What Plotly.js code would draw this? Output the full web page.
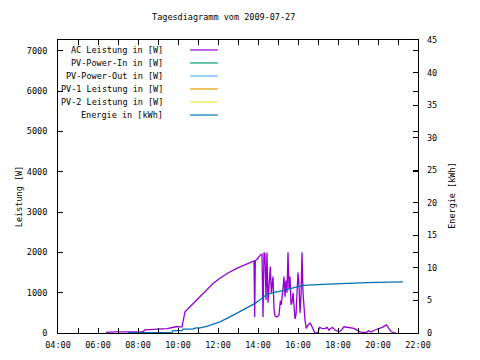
<!DOCTYPE html>
<html>
<head>
<meta charset="utf-8">
<script src="https://cdn.plot.ly/plotly-3.0.1.min.js"></script>
<style>html,body{margin:0;padding:0;background:#fff;}#chart{width:480px;height:360px;}</style>
</head>
<body>
<div id="chart"></div>
<script>
const day = '2009-07-27';
const chartTitle = 'Tagesdiagramm vom 2009-07-27';
const seriesNames = ['AC Leistung in [W]', 'PV-Power-In in [W]', 'PV-Power-Out in [W]', 'PV-1 Leistung in [W]', 'PV-2 Leistung in [W]', 'Energie in [kWh]'];
const leftAxisTitle = 'Leistung [W]';
const rightAxisTitle = 'Energie [kWh]';

// AC Leistung [W]
const acTimes = ['06:24','06:51','08:15','08:21','09:27','09:54','10:12','10:16','10:21','10:36','10:51','11:16','11:46','12:06','12:30','12:56','13:26','13:46',
  '13:48','13:50','13:52','13:57','14:03','14:09','14:12','14:15','14:18','14:21','14:24','14:27','14:30','14:33','14:37','14:40','14:45','14:48','14:51','14:57',
  '15:03','15:07','15:10','15:15','15:18','15:21','15:24','15:27','15:30','15:33','15:36','15:39','15:42','15:45','15:48','15:51','15:54','15:57',
  '16:00','16:03','16:06','16:09','16:12','16:15','16:18','16:21','16:25','16:30','16:37','16:45','16:51','17:00','17:04','17:12','17:21','17:27','17:33','17:43','17:51',
  '18:03','18:09','18:18','18:30','18:48','19:00','19:06','19:18','19:27','19:31','19:39','19:51','20:00','20:13','20:25','20:33','20:40','20:48','20:54'];
const acValues = [15,30,30,80,110,155,150,350,528,652,777,985,1233,1357,1490,1605,1712,1769,
  1790,400,1790,1830,1900,1950,1950,400,2000,1950,820,2000,750,1200,1650,1000,1400,600,420,400,
  450,800,700,1100,1400,900,1300,1000,2000,1100,1400,700,750,1000,700,350,450,900,
  1500,1200,500,900,2000,1000,500,320,115,200,240,120,0,0,140,115,110,140,75,140,75,
  30,60,155,140,115,60,30,10,20,55,25,75,100,140,200,115,30,10,0];

// Energie [kWh]
const enTimes = ['07:30','09:42','09:45','10:12','10:15','10:45','10:54','11:06','11:26','12:06','12:46','13:26','13:51','14:06','14:26','14:45','15:15','15:51','16:16','17:31','18:26','19:26','20:36','21:15'];
const enValues = [0.05,0.1,0.35,0.35,0.6,0.6,0.8,0.8,1.0,1.7,2.75,3.8,4.55,5.1,5.9,6.2,6.5,7.0,7.3,7.5,7.65,7.75,7.8,7.85];

// Series without visible data on this day
const pvInValues = [];
const pvOutValues = [];
const pv1Values = [];
const pv2Values = [];

const colors = ['#9400d3', '#009e73', '#56b4e9', '#e69f00', '#f0e442', '#0072b2'];
const toDate = t => day + ' ' + t;

const traces = [
  {x: acTimes.map(toDate), y: acValues, name: seriesNames[0], type: 'scatter', mode: 'lines', line: {color: colors[0], width: 1.3}},
  {x: pvInValues.map(toDate), y: pvInValues, name: seriesNames[1], type: 'scatter', mode: 'lines', line: {color: colors[1], width: 1.2}},
  {x: pvOutValues.map(toDate), y: pvOutValues, name: seriesNames[2], type: 'scatter', mode: 'lines', line: {color: colors[2], width: 1.2}},
  {x: pv1Values.map(toDate), y: pv1Values, name: seriesNames[3], type: 'scatter', mode: 'lines', line: {color: colors[3], width: 1.2}},
  {x: pv2Values.map(toDate), y: pv2Values, name: seriesNames[4], type: 'scatter', mode: 'lines', line: {color: colors[4], width: 1.2}},
  {x: enTimes.map(toDate), y: enValues, name: seriesNames[5], type: 'scatter', mode: 'lines', yaxis: 'y2', line: {color: colors[5], width: 1.3}}
];

const font = {family: 'DejaVu Sans Mono, monospace', size: 8.5, color: '#000'};

// gnuplot-style key: text right-aligned, line sample to the right
const annotations = [];
const shapes = [];
seriesNames.forEach((n, i) => {
  const yp = 0.966 - i * 0.0444;
  annotations.push({text: n, xref: 'paper', yref: 'paper', x: 0.297, y: yp, xanchor: 'right', yanchor: 'middle', showarrow: false, font: font});
  shapes.push({type: 'line', xref: 'paper', yref: 'paper', x0: 0.367, x1: 0.444, y0: yp, y1: yp, line: {color: colors[i], width: 1.2}});
});
annotations.push({text: leftAxisTitle, xref: 'paper', yref: 'paper', x: -0.108, y: 0.464, textangle: -90, showarrow: false, xanchor: 'center', yanchor: 'middle', font: font});
annotations.push({text: rightAxisTitle, xref: 'paper', yref: 'paper', x: 1.094, y: 0.471, textangle: -90, showarrow: false, xanchor: 'center', yanchor: 'middle', font: font});

const layout = {
  width: 480, height: 360,
  margin: {l: 58, r: 62, t: 40, b: 27},
  paper_bgcolor: '#fff', plot_bgcolor: '#fff',
  font: font,
  showlegend: false,
  title: {text: chartTitle, x: 0.466, xref: 'container', xanchor: 'center', y: 0.953, yref: 'container', yanchor: 'middle', font: font},
  xaxis: {
    type: 'date', range: [toDate('04:00'), toDate('22:00')],
    dtick: 7200000, tick0: toDate('04:00'), tickformat: '%H:%M',
    ticks: 'inside', ticklen: 5, tickcolor: '#000', tickwidth: 1,
    minor: {dtick: 3600000, ticks: 'inside', ticklen: 5, tickcolor: '#000', showgrid: false},
    showline: true, linecolor: '#000', linewidth: 1, mirror: 'ticks',
    showgrid: false, zeroline: false, fixedrange: true,
    tickfont: font, ticklabelstandoff: 4
  },
  yaxis: {
    range: [0, 7270], dtick: 1000, tick0: 0,
    ticks: 'inside', ticklen: 5, tickcolor: '#000',
    showline: true, linecolor: '#000', linewidth: 1, mirror: 'ticks',
    showgrid: false, zeroline: false, tickfont: font, ticklabelstandoff: 8
  },
  yaxis2: {
    overlaying: 'y', side: 'right', range: [0, 45], dtick: 5, tick0: 0,
    ticks: 'inside', ticklen: 5, tickcolor: '#000',
    showline: false, showgrid: false, zeroline: false, tickfont: font, ticklabelstandoff: 8
  },
  annotations: annotations,
  shapes: shapes
};

Plotly.newPlot('chart', traces, layout, {staticPlot: true, displayModeBar: false});
</script>
</body>
</html>
